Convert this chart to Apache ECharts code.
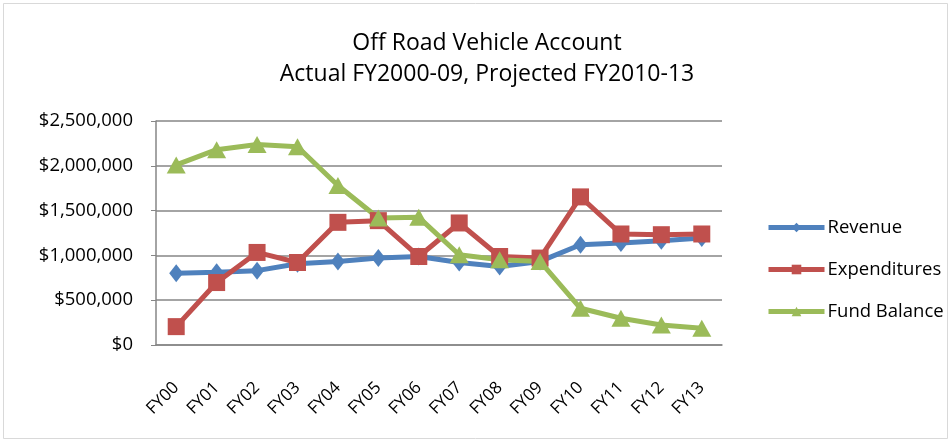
<!DOCTYPE html>
<html><head><meta charset="utf-8">
<script src="https://cdn.jsdelivr.net/npm/echarts@6/dist/echarts.min.js"></script>
<style>html,body{margin:0;padding:0;background:#fff}#c{width:951px;height:442px}</style>
</head><body><div id="c"></div>
<script>
var categories = ['FY00','FY01','FY02','FY03','FY04','FY05','FY06','FY07','FY08','FY09','FY10','FY11','FY12','FY13'];
var revenue = [802000, 813000, 830000, 906000, 933000, 970000, 988000, 920000, 877000, 933000, 1119000, 1138000, 1164000, 1194000];
var expenditures = [205000, 697000, 1033000, 921000, 1369000, 1388000, 988000, 1362000, 988000, 970000, 1653000, 1239000, 1231000, 1239000];
var fundBalance = [2010000, 2180000, 2238000, 2212000, 1780000, 1418000, 1425000, 1007000, 951000, 933000, 410000, 298000, 224000, 187000];
var yTicks = [0, 500000, 1000000, 1500000, 2000000, 2500000];

var FONT = '"Open Sans", sans-serif';
function fmt(v){ return '$' + v.toString().replace(/\B(?=(\d{3})+(?!\d))/g, ','); }
var chart = echarts.init(document.getElementById('c'), null, {renderer:'canvas'});
chart.setOption({
  animation:false,
  backgroundColor:'#fff',
  graphic:[{type:'rect', shape:{x:3.5,y:3.5,width:944,height:435}, style:{fill:'none', stroke:'#d9d9d9', lineWidth:1}}],
  title:{
    text:'Off Road Vehicle Account\nActual FY2000-09, Projected FY2010-13',
    left:482, textAlign:'center', top:23,
    textStyle:{fontFamily:FONT, fontSize:23, fontWeight:'normal', color:'#000', lineHeight:31}
  },
  legend:{
    orient:'vertical', left:761, top:213, itemWidth:56, itemHeight:12, itemGap:23,
    lineStyle:{width:5},
    textStyle:{fontFamily:FONT, fontSize:18.5, color:'#000', padding:[0,0,0,-2]},
    data:['Revenue','Expenditures','Fund Balance']
  },
  grid:{left:156, right:229, top:121, bottom:97},
  xAxis:{
    type:'category', data:categories, boundaryGap:true,
    axisLine:{lineStyle:{color:'#868686', width:1.5}},
    axisTick:{show:false},
    axisLabel:{rotate:45, fontFamily:FONT, fontSize:17, color:'#000', margin:40}
  },
  yAxis:{
    type:'value', min:yTicks[0], max:yTicks[yTicks.length-1], interval:500000,
    axisLine:{show:true, lineStyle:{color:'#868686', width:1.5}},
    axisTick:{show:true, length:5, lineStyle:{color:'#868686'}},
    splitLine:{lineStyle:{color:'#868686', width:1.5}},
    axisLabel:{fontFamily:FONT, fontSize:18.5, color:'#000', margin:23, formatter:fmt}
  },
  series:[
    {name:'Revenue', type:'line', data:revenue, symbol:'diamond', symbolSize:[14,18],
     lineStyle:{width:5, color:'#4F81BD'}, itemStyle:{color:'#4F81BD'}},
    {name:'Expenditures', type:'line', data:expenditures, symbol:'rect', symbolSize:17,
     lineStyle:{width:5, color:'#C0504D'}, itemStyle:{color:'#C0504D'}},
    {name:'Fund Balance', type:'line', data:fundBalance, symbol:'triangle', symbolSize:[19,17],
     lineStyle:{width:5, color:'#9BBB59'}, itemStyle:{color:'#9BBB59'}}
  ]
});
</script></body></html>
